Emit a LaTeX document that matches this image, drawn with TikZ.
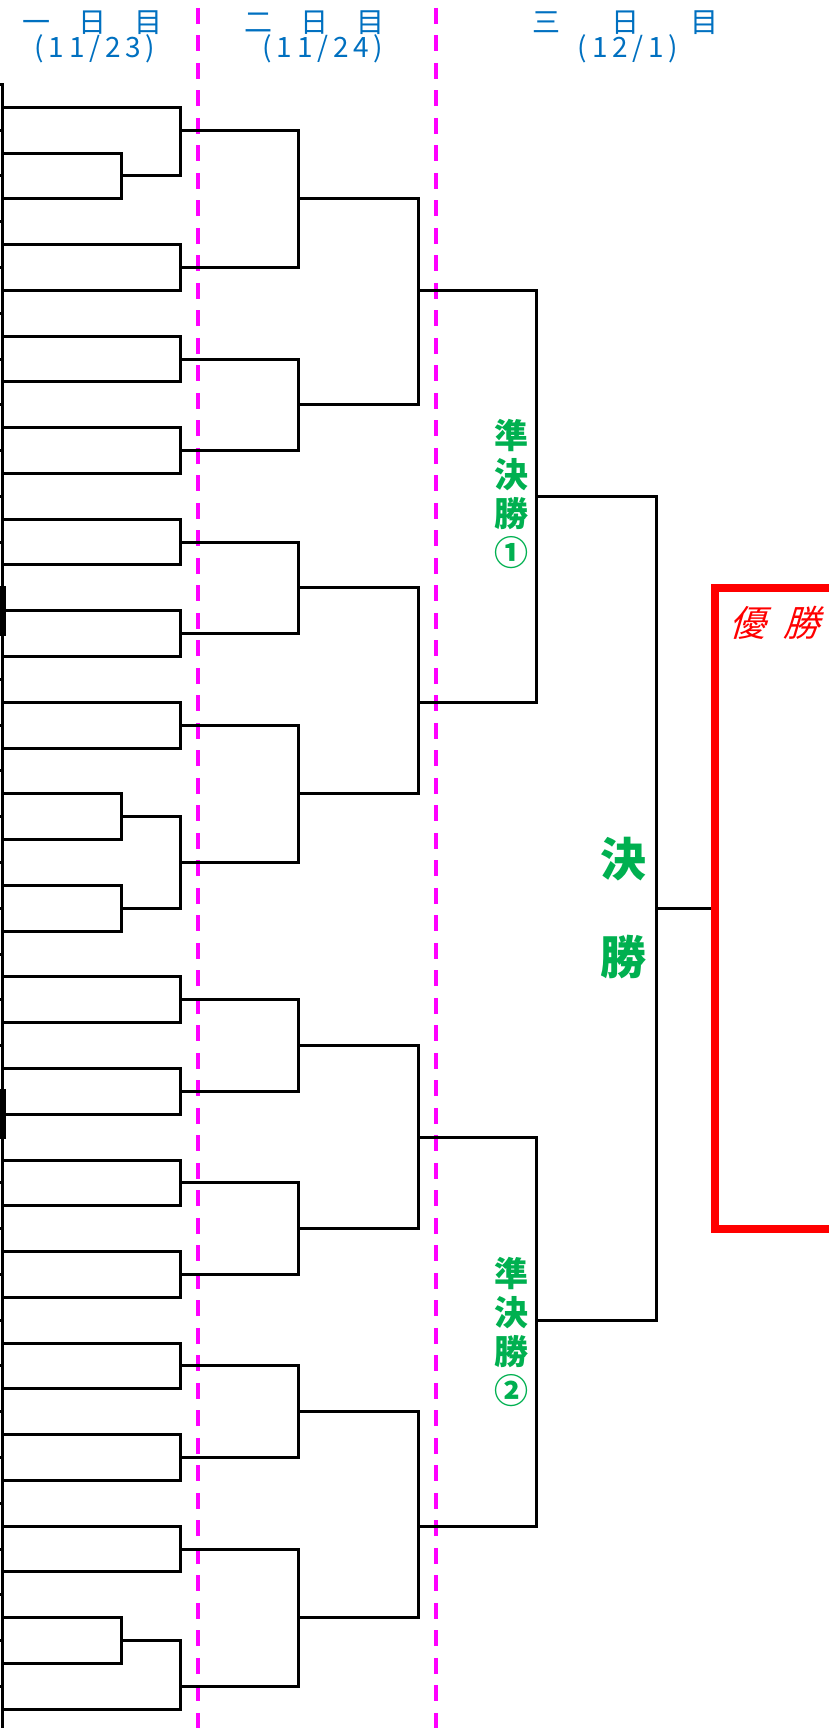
\documentclass[tikz,border=0pt]{standalone}
\usepackage{fontspec}
\usepackage{xcolor}
\newfontfamily\jpfont{Noto Sans CJK JP}
\newfontfamily\jpwide[LetterSpace=17]{Noto Sans CJK JP}
\newfontfamily\jpslant[FakeSlant=0.3]{Noto Sans CJK JP}
\definecolor{dayblue}{RGB}{0,112,192}
\definecolor{roundgreen}{RGB}{0,176,80}
\definecolor{sepmagenta}{RGB}{255,0,255}

\tikzset{
  bracket/.style={line width=1.5pt, line cap=rect},
  daysep/.style={sepmagenta, line width=1.8pt, dash pattern=on 8pt off 5.75pt},
  daylabel/.style={dayblue, inner sep=0pt, font=\jpfont\fontsize{14}{16}\selectfont},
  datelabel/.style={dayblue, inner sep=0pt, font=\jpwide\fontsize{14}{16}\selectfont},
  roundlabel/.style={roundgreen, align=center, inner sep=0pt},
  champbox/.style={red, line width=4pt}
}

\begin{document}
\begin{tikzpicture}[x=0.5pt, y=-11.4425pt]
\useasboundingbox (0,-4.689) rectangle (829,70.82);
\clip (0,-4.689) rectangle (829,70.82);

% day columns
\draw[daysep] (198,-4.34) -- (198,70.82);
\draw[daysep] (435.7,-4.34) -- (435.7,70.82);

\node[daylabel] (day1) at (93,-3.7) {一\hspace{14pt}日\hspace{14pt}目};
\node[datelabel] (date1) at (95,-2.55) {(11/23)};
\node[daylabel] (day2) at (314,-3.7) {二\hspace{14pt}日\hspace{14pt}目};
\node[datelabel] (date2) at (323,-2.55) {(11/24)};
\node[daylabel] (day3) at (625.6,-3.7) {三\hspace{25.7pt}日\hspace{25.7pt}目};
\node[datelabel] (date3) at (628,-2.55) {(12/1)};

% entry column
\draw[bracket] (2.3,-1) -- (2.3,71);
\foreach \k in {-1,1,...,69}
   \draw[bracket] (0,\k) -- (2.3,\k);
\fill (0,20.9) rectangle (5.7,23.1);
\fill (0,42.9) rectangle (5.7,45.1);

\foreach \k in {0,6,8,...,28}
   \draw[bracket] (2.3,\k) -- (180.3,\k);
\foreach \k in {38,40,...,64,70}
   \draw[bracket] (2.3,\k) -- (180.3,\k);
\foreach \k in {2,4,30,32,34,36,66,68}
   \draw[bracket] (2.3,\k) -- (121,\k);

% rounds
\foreach \a/\b/\m in {2/4/3, 30/32/31, 34/36/35, 66/68/67}
   {\draw[bracket] (121,\a) -- (121,\b);
    \draw[bracket] (121,\m) -- (180.3,\m);}
\foreach \a/\b/\m in {0/3/1, 6/8/7, 10/12/11, 14/16/15, 18/20/19, 22/24/23, 26/28/27, 31/35/33,
                      38/40/39, 42/44/43, 46/48/47, 50/52/51, 54/56/55, 58/60/59, 62/64/63, 67/70/69}
   {\draw[bracket] (180.3,\a) -- (180.3,\b);
    \draw[bracket] (180.3,\m) -- (298.7,\m);}
\foreach \a/\b/\m in {1/7/4, 11/15/13, 19/23/21, 27/33/30, 39/43/41, 47/51/49, 55/59/57, 63/69/66}
   {\draw[bracket] (298.7,\a) -- (298.7,\b);
    \draw[bracket] (298.7,\m) -- (418,\m);}
\foreach \a/\b/\m in {4/13/8, 21/30/26, 41/49/45, 57/66/62}
   {\draw[bracket] (418,\a) -- (418,\b);
    \draw[bracket] (418,\m) -- (536,\m);}
\foreach \a/\b/\m in {8/26/17, 45/62/53}
   {\draw[bracket] (536,\a) -- (536,\b);
    \draw[bracket] (536,\m) -- (656,\m);}
\draw[bracket] (656,17) -- (656,53);
\draw[bracket] (656,35) -- (715,35);

\node[roundlabel, font=\jpfont\bfseries\fontsize{17}{19.5}\selectfont] (semi1) at (511,16.9) {準\\決\\勝\\①};
\node[roundlabel, font=\jpfont\bfseries\fontsize{17}{19.5}\selectfont] (semi2) at (511,53.5) {準\\決\\勝\\②};
\node[roundlabel, font=\jpfont\bfseries\fontsize{23}{49}\selectfont] (final) at (623,35) {決\\勝};

% champion
\draw[champbox] (840,21) -- (715,21) -- (715,49) -- (840,49);
\node[red, inner sep=0pt, font=\jpslant\fontsize{18}{20}\selectfont] (champ) at (774,22.51) {優\hspace{9pt}勝};

\end{tikzpicture}
\end{document}
